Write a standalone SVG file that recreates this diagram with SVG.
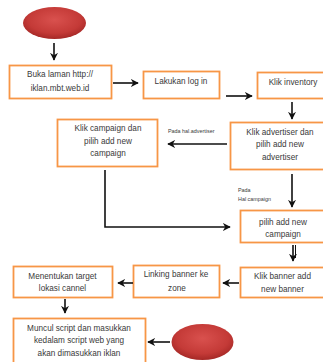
<svg xmlns="http://www.w3.org/2000/svg" width="323" height="362" viewBox="0 0 323 362">
<style>
.box{fill:#fff;stroke:#F79646;stroke-width:1.8}
.t{font-family:"Liberation Sans",Arial,sans-serif;font-size:8.2px;fill:#3a3a3a;text-anchor:middle}
.s{font-family:"Liberation Sans",Arial,sans-serif;font-size:5.4px;fill:#3a3a3a}
.c{fill:none;stroke:#111;stroke-width:1.6}
</style>
<defs>
<marker id="ah" viewBox="0 0 10 10" refX="9" refY="5" markerWidth="5" markerHeight="5" orient="auto" markerUnits="strokeWidth">
<path d="M0,0 L10,5 L0,10 L3,5 Z" fill="#111"/>
</marker>
<radialGradient id="red" cx="50%" cy="40%" r="60%">
<stop offset="0" stop-color="#D9514E"/>
<stop offset="0.7" stop-color="#C43A37"/>
<stop offset="1" stop-color="#A52826"/>
</radialGradient>
</defs>
<rect width="323" height="362" fill="#fff"/>
<g id="start"><ellipse cx="54.5" cy="23" rx="31.5" ry="16" fill="url(#red)"/></g>
<g id="end"><ellipse cx="202.5" cy="342" rx="31" ry="18" fill="url(#red)"/></g>
<g id="n1"><rect class="box" x="9.5" y="65.5" width="102" height="33"/><text class="t" x="60" y="77">Buka laman http://</text><text class="t" x="60" y="91">iklan.mbt.web.id</text></g>
<g id="n2"><rect class="box" x="143.5" y="71.5" width="76" height="27"/><text class="t" x="181" y="84">Lakukan log in</text></g>
<g id="n3"><rect class="box" x="257.5" y="72.5" width="67" height="26"/><text class="t" x="293" y="85">Klik inventory</text></g>
<g id="n4"><rect class="box" x="57.5" y="119.5" width="100" height="47"/><text class="t" x="108" y="131">Klik campaign dan</text><text class="t" x="108" y="144">pilih add new</text><text class="t" x="108" y="156">campaign</text></g>
<g id="n5"><rect class="box" x="230.5" y="122.5" width="95" height="47"/><text class="t" x="280" y="134.5">Klik advertiser dan</text><text class="t" x="280" y="147">pilih add new</text><text class="t" x="280" y="159.5">advertiser</text></g>
<g id="n6"><rect class="box" x="240.5" y="210.5" width="85" height="32"/><text class="t" x="283" y="225">pilih add new</text><text class="t" x="283" y="236.5">campaign</text></g>
<g id="n7"><rect class="box" x="240.5" y="267.5" width="85" height="30"/><text class="t" x="282.5" y="278.5">Klik banner add</text><text class="t" x="282.5" y="292">new banner</text></g>
<g id="n8"><rect class="box" x="133.5" y="265.5" width="86" height="32"/><text class="t" x="176" y="277">Linking banner ke</text><text class="t" x="177" y="291">zone</text></g>
<g id="n9"><rect class="box" x="13.5" y="266.5" width="99" height="31"/><text class="t" x="62.5" y="278.5">Menentukan target</text><text class="t" x="62.5" y="290.5">lokasi cannel</text></g>
<g id="n10"><rect class="box" x="13.5" y="318.5" width="132" height="46"/><text class="t" x="79" y="331">Muncul script dan masukkan</text><text class="t" x="79" y="343">kedalam script web yang</text><text class="t" x="79" y="355.5">akan dimasukkan iklan</text></g>
<g id="labels">
<text class="s" x="168" y="133">Pada hal.advertiser</text>
<text class="s" x="238" y="192">Pada</text>
<text class="s" x="238" y="201">Hal campaign</text>
</g>
<g id="connectors">
<path class="c" d="M54,43 V60" marker-end="url(#ah)"/>
<path class="c" d="M113,83 H138" marker-end="url(#ah)"/>
<path class="c" d="M226,96 H252" marker-end="url(#ah)"/>
<path class="c" d="M292,102 V119" marker-end="url(#ah)"/>
<path class="c" d="M227,144 H168" marker-end="url(#ah)"/>
<path class="c" d="M292,174 V207" marker-end="url(#ah)"/>
<path class="c" d="M105,170 V227 H230" marker-end="url(#ah)"/>
<path class="c" d="M293,245 V261" marker-end="url(#ah)"/>
<path d="M295.5,245 V258" fill="none" stroke="#111" stroke-width="1"/>
<path class="c" d="M239,283 H223" marker-end="url(#ah)"/>
<path class="c" d="M133,283 H118" marker-end="url(#ah)"/>
<path class="c" d="M65,299 V313" marker-end="url(#ah)"/>
<path class="c" d="M170,342 H148" marker-end="url(#ah)"/>
</g>
</svg>
